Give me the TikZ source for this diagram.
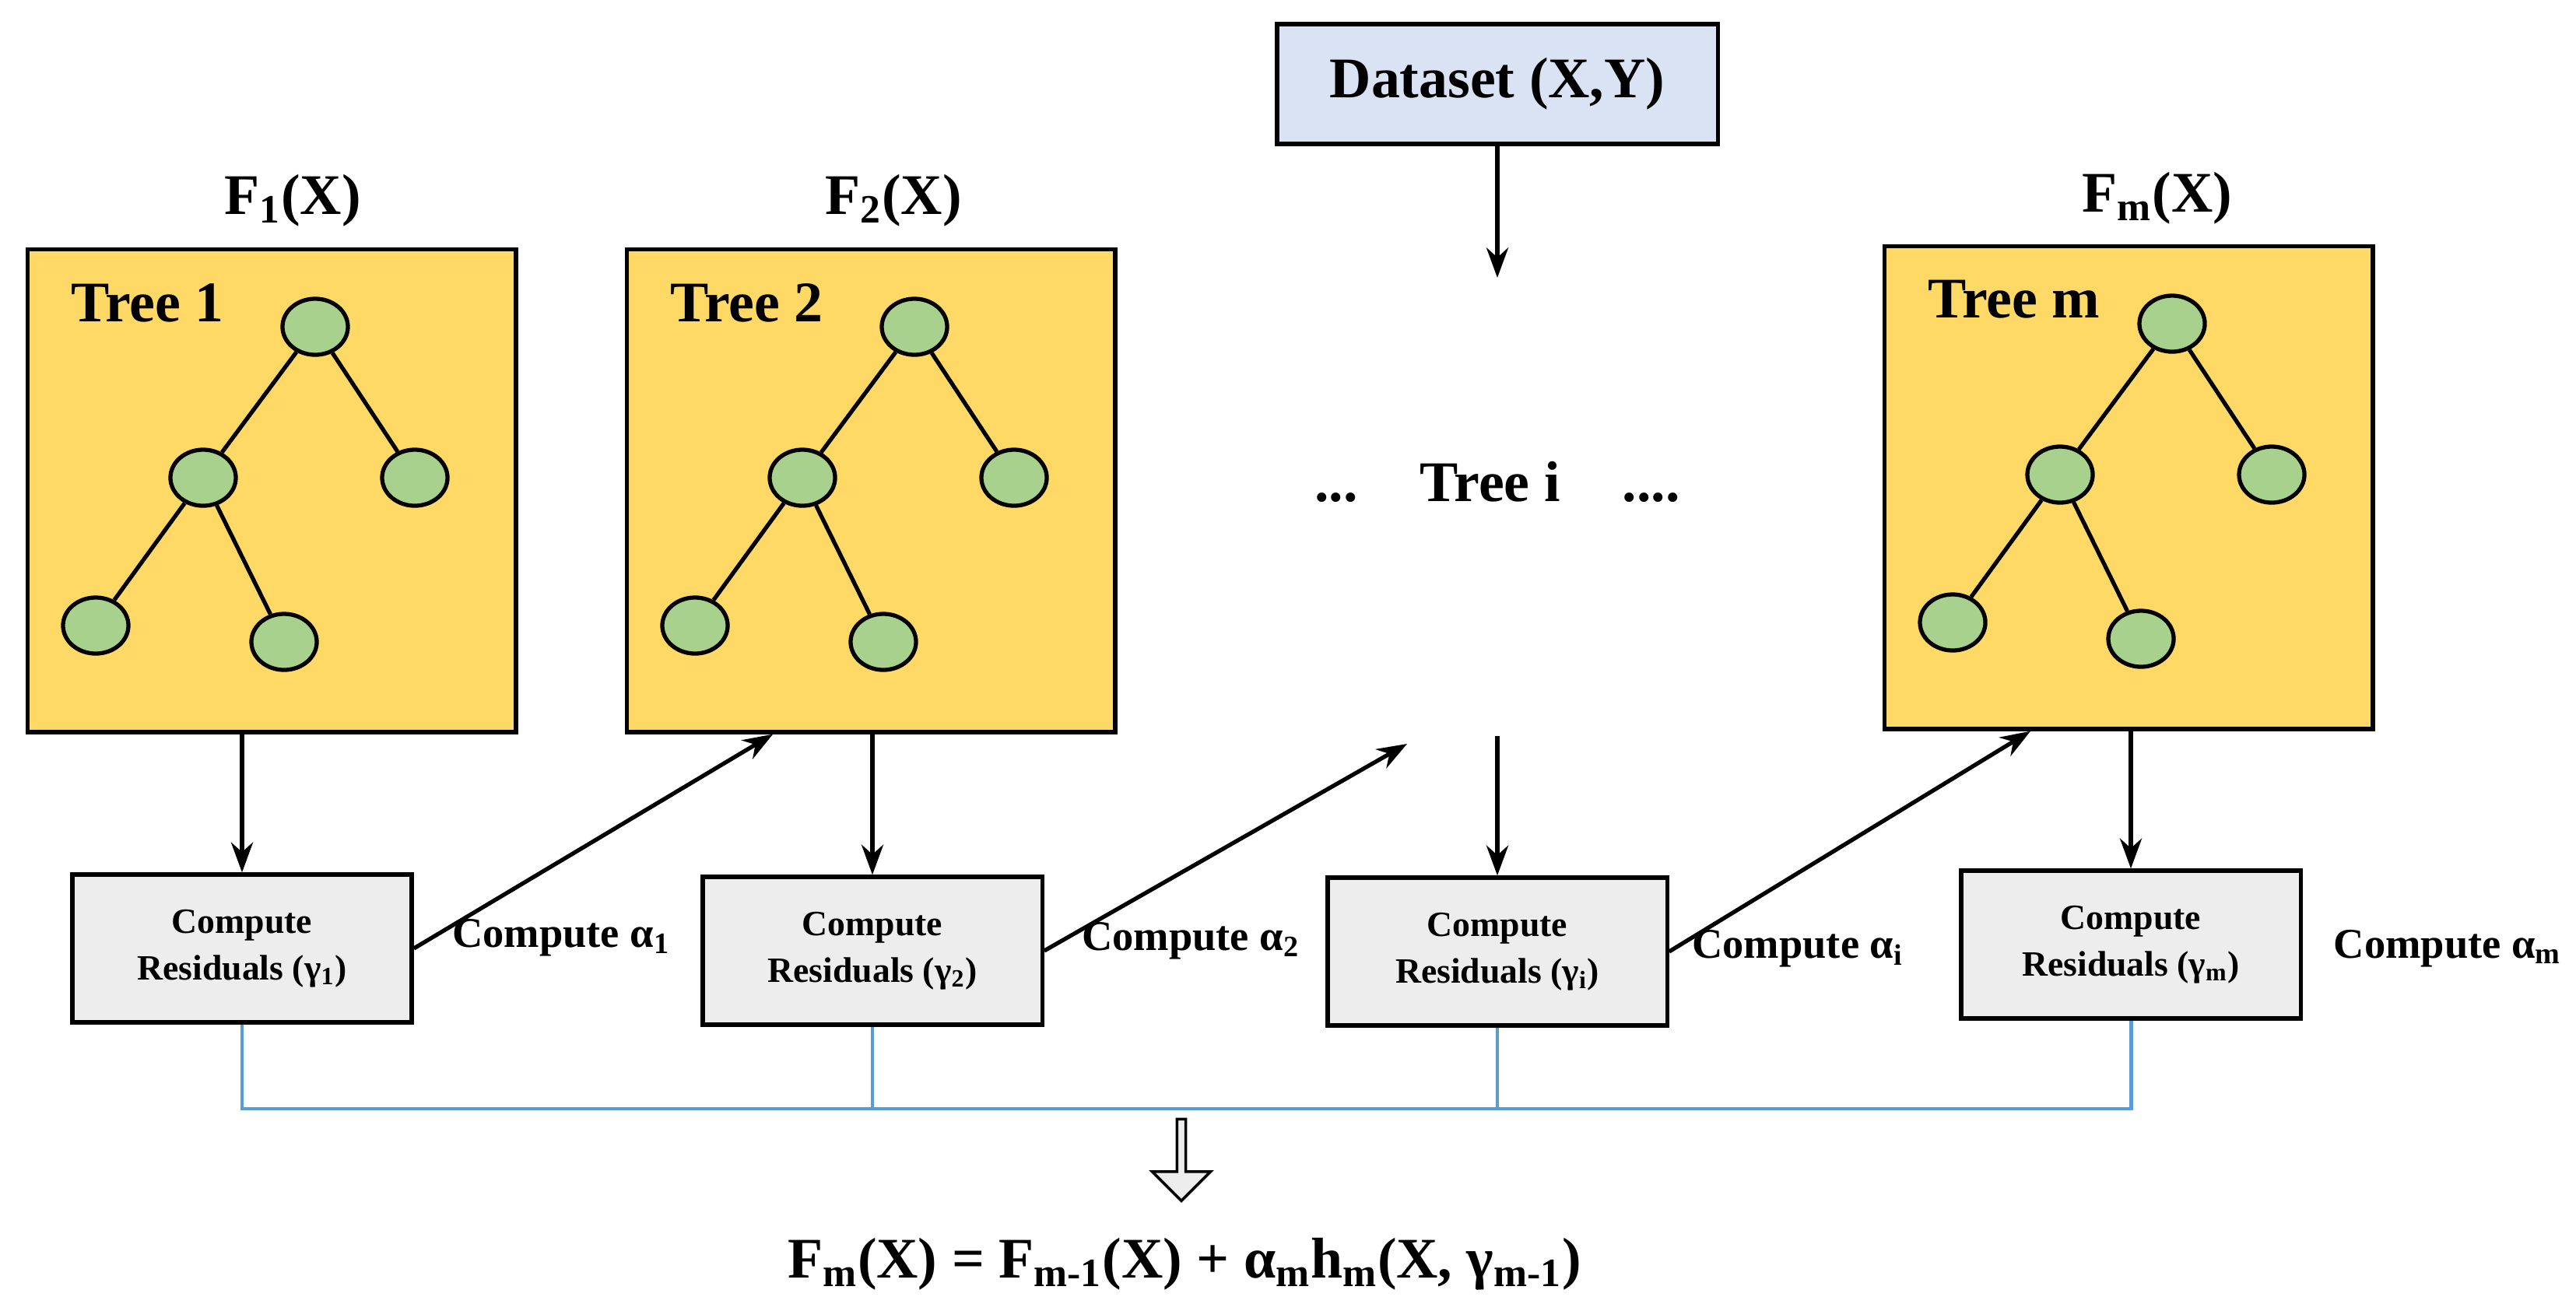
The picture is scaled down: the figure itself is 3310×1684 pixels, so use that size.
\documentclass[tikz,border=0pt]{standalone}
\usepackage{fontspec}
\setmainfont{Liberation Serif}
\usetikzlibrary{shapes.geometric,shapes.arrows,arrows.meta}
\definecolor{treey}{HTML}{FFD966}
\definecolor{leafg}{HTML}{A9D18E}
\definecolor{resg}{HTML}{EDEDED}
\definecolor{dsb}{HTML}{DAE3F3}
\definecolor{linkb}{HTML}{5B9BD5}
\begin{document}
\begin{tikzpicture}[x=0.01cm,y=-0.01cm,
  treebox/.style={draw,line width=1.5pt,fill=treey,minimum width=6.27cm,minimum height=6.2cm,inner sep=0,anchor=north west},
  leaf/.style={ellipse,draw,line width=1.5pt,fill=leafg,minimum width=0.84cm,minimum height=0.72cm,inner sep=0},
  edge/.style={line width=1.5pt},
  resbox/.style={draw,line width=1.5pt,fill=resg,minimum width=4.36cm,minimum height=1.9cm,align=center,font=\fontsize{13}{17}\selectfont\bfseries},
  lab/.style={font=\fontsize{21}{25}\selectfont\bfseries},
  alab/.style={font=\fontsize{15.5}{19}\selectfont\bfseries,anchor=center},
  arr/.style={line width=1.5pt,-{Stealth[length=11pt,width=8pt]}},
  blue/.style={linkb,line width=1.4pt}]
\useasboundingbox (0,0) rectangle (3310,1684);
\newcommand{\mytree}[4]{%
  \node[treebox] (#1) at (#2,#3) {};
  \node[lab,anchor=west] (#1lab) at (#2+46,#3+71) {#4};
  \node[leaf] (#1r) at (#2+372,#3+102) {};
  \node[leaf] (#1a) at (#2+228,#3+296) {};
  \node[leaf] (#1b) at (#2+500,#3+296) {};
  \node[leaf] (#1c) at (#2+90,#3+486) {};
  \node[leaf] (#1d) at (#2+332,#3+507) {};
  \draw[edge] (#1r) -- (#1a); \draw[edge] (#1r) -- (#1b);
  \draw[edge] (#1a) -- (#1c); \draw[edge] (#1a) -- (#1d);}
\mytree{t1}{33}{318}{Tree 1}
\mytree{t2}{803}{318}{Tree 2}
\mytree{tm}{2419}{314}{Tree m}
\node[lab] (f1) at (376,258) {F\textsubscript{1}(X)};
\node[lab] (f2) at (1148,258) {F\textsubscript{2}(X)};
\node[lab] (fm) at (2772,255) {F\textsubscript{m}(X)};
\node[draw,line width=1.5pt,fill=dsb,minimum width=5.66cm,minimum height=1.54cm,lab] (ds) at (1924,108) {Dataset (X,Y)};
\node[lab] (ti) at (1924,619) {...\hspace{0.8cm}Tree i\hspace{0.8cm}....};
\coordinate (dsend) at (1924,357);
\coordinate (tibot) at (1924,946);
\coordinate (titop) at (1808,956);
\node[resbox] (r1) at (311,1219) {Compute\\Residuals (γ\textsubscript{1})};
\node[resbox] (r2) at (1121,1222) {Compute\\Residuals (γ\textsubscript{2})};
\node[resbox] (ri) at (1924,1223) {Compute\\Residuals (γ\textsubscript{i})};
\node[resbox] (rm) at (2738,1214) {Compute\\Residuals (γ\textsubscript{m})};
\node[alab] (a1) at (721,1205) {Compute α\textsubscript{1}};
\node[alab] (a2) at (1530,1209) {Compute α\textsubscript{2}};
\node[alab] (ai) at (2310,1219) {Compute α\textsubscript{i}};
\node[alab] (am) at (3145,1219) {Compute α\textsubscript{m}};
\draw[arr] (ds) -- (dsend);
\draw[arr] (tibot) -- (ri);
\draw[arr] (t1.south -| r1) -- (r1);
\draw[arr] (t2.south -| r2) -- (r2);
\draw[arr] (tm.south -| rm) -- (rm);
\draw[arr] (r1.east) -- ([xshift=1.9cm]t2.south west);
\draw[arr] (r2.east) -- (titop);
\draw[arr] (ri.east) -- ([xshift=1.9cm]tm.south west);
\coordinate (bl) at (311,1425);
\coordinate (br) at (2738,1425);
\draw[blue] (r1.south) -- (bl) -- (br) -- (rm.south);
\draw[blue] (r2.south) -- (r2.south |- bl);
\draw[blue] (ri.south) -- (ri.south |- bl);
\node[single arrow,draw,fill=resg,line width=1pt,shape border rotate=270,minimum height=1.05cm,minimum width=0.75cm,single arrow head extend=0.1cm,inner sep=0] (ha) at (1518,1488) {};
\node[lab] (eq) at (1522,1625) {F\textsubscript{m}(X) = F\textsubscript{m-1}(X) + α\textsubscript{m}h\textsubscript{m}(X, γ\textsubscript{m-1})};
\end{tikzpicture}
\end{document}
